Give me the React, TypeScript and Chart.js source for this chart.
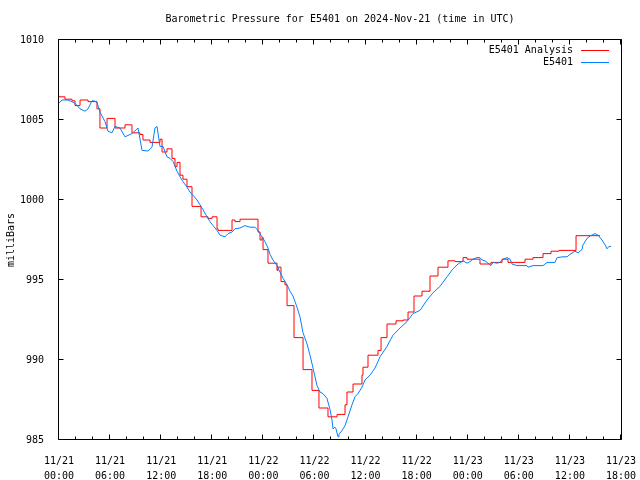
import { useEffect, useRef } from 'react';
import { Chart, registerables } from 'chart.js';

Chart.register(...registerables);

const FONT = '"DejaVu Sans Mono", monospace';

const chartTitle = 'Barometric Pressure for E5401 on 2024-Nov-21 (time in UTC)';
const yAxisTitle = 'milliBars';
const seriesNames = ['E5401 Analysis', 'E5401'];
const seriesColors = ['#ff0000', '#0080ff'];

// x tick labels every 6 hours from 2024-11-21 00:00 UTC
const xTickDays = ['11/21', '11/21', '11/21', '11/21', '11/22', '11/22', '11/22', '11/22', '11/23', '11/23', '11/23', '11/23'];
const xTickTimes = ['00:00', '06:00', '12:00', '18:00', '00:00', '06:00', '12:00', '18:00', '00:00', '06:00', '12:00', '18:00'];
const xMinHours = 0;
const xMaxHours = 66;
const yMin = 985;
const yMax = 1010;

// Observed station (E5401), hours since 11/21 00:00
const obsHours = [
  0.0, 0.35, 1.06, 1.88, 2.47, 3.05, 3.41, 3.88, 4.11, 4.46, 4.81, 5.4, 5.75, 6.22, 6.58, 7.16, 7.75, 8.57, 9.28, 9.75,
  10.45, 10.92, 11.27, 11.51, 11.86, 12.21, 12.68, 13.04, 13.39, 13.86, 14.21, 14.56, 15.03, 15.38, 15.74, 16.21, 16.56,
  16.91, 17.38, 17.73, 18.09, 18.56, 18.91, 19.5, 19.85, 20.32, 20.67, 21.26, 21.84, 22.43, 23.02, 23.37, 23.84, 24.19,
  24.54, 24.78, 25.13, 25.6, 25.95, 26.31, 26.78, 27.13, 27.48, 27.95, 28.3, 28.66, 29.13, 29.48, 29.83, 30.3, 30.65,
  31.0, 31.47, 31.83, 32.06, 32.18, 32.41, 32.53, 32.77, 32.88, 33.24, 33.59, 33.94, 34.41, 34.76, 35.11, 35.58, 35.94,
  36.52, 37.11, 37.46, 37.7, 38.52, 39.22, 40.05, 40.87, 41.57, 42.4, 43.22, 43.92, 44.74, 45.57, 46.27, 46.86, 47.45,
  47.92, 48.27, 48.62, 49.09, 49.44, 49.68, 50.03, 50.38, 50.73, 50.97, 51.44, 51.79, 52.14, 52.61, 52.97, 53.2, 53.79,
  54.37, 54.96, 55.08, 55.67, 56.84, 57.31, 58.25, 58.49, 59.19, 59.66, 60.01, 60.6, 60.95, 61.42, 61.54, 62.01, 62.36,
  62.95, 63.3, 63.77, 64.12, 64.36, 64.59, 64.83,
];
const obsPressure = [
  1006.05, 1006.25, 1006.25, 1006.05, 1005.7, 1005.55, 1005.7, 1006.2, 1006.2, 1006.1, 1005.5, 1004.9, 1004.3, 1004.2,
  1004.6, 1004.5, 1003.95, 1004.15, 1004.5, 1003.1, 1003.06, 1003.3, 1004.5, 1004.6, 1003.35, 1003.35, 1002.7, 1002.6,
  1002.4, 1001.8, 1001.45, 1001.15, 1000.8, 1000.5, 1000.3, 1000.0, 999.7, 999.4, 998.95, 998.65, 998.4, 998.1, 997.8,
  997.7, 997.9, 998.0, 998.2, 998.25, 998.4, 998.3, 998.3, 998.1, 997.7, 997.4, 997.0, 996.6, 996.25, 995.9, 995.5,
  995.1, 994.7, 994.3, 994.0, 993.3, 992.7, 991.7, 991.0, 990.3, 989.5, 988.4, 988.0, 987.9, 987.6, 986.9, 986.25,
  985.7, 985.8, 985.7, 985.2, 985.35, 985.6, 985.9, 986.45, 987.2, 987.7, 987.9, 988.3, 988.75, 989.05, 989.5, 989.9,
  990.2, 990.85, 991.55, 992.0, 992.4, 992.9, 993.1, 993.75, 994.2, 994.6, 995.2, 995.7, 996.0, 996.2, 996.05, 996.15,
  996.3, 996.4, 996.4, 996.25, 996.2, 996.05, 995.9, 996.1, 996.05, 996.1, 996.3, 996.4, 996.3, 996.0, 995.9, 995.9,
  995.9, 995.8, 995.9, 995.9, 996.1, 996.1, 996.4, 996.45, 996.45, 996.6, 996.8, 996.7, 996.9, 997.2, 997.6, 997.75,
  997.9, 997.8, 997.5, 997.2, 996.95, 997.1, 997.1,
];

// Analysis (step line): each value holds from its hour until the next hour
const anaHours = [
  0.0, 0.7, 1.53, 1.88, 2.47, 3.41, 4.46, 4.81, 5.64, 6.58, 7.75, 8.57, 9.51, 9.86, 10.69, 11.86, 12.1, 12.68, 13.27,
  13.62, 13.86, 14.21, 14.56, 15.03, 15.62, 16.68, 17.5, 17.97, 18.56, 18.67, 20.32, 20.67, 21.26, 23.37, 23.61, 23.84,
  23.96, 24.54, 25.6, 25.72, 26.07, 26.54, 26.78, 27.6, 28.66, 29.71, 30.53, 31.59, 32.65, 33.59, 33.82, 34.53, 35.58,
  35.7, 36.29, 37.46, 37.82, 38.52, 39.58, 40.4, 40.99, 41.69, 42.63, 43.57, 44.51, 45.68, 46.51, 47.45, 47.92, 49.44,
  50.73, 52.03, 52.73, 54.73, 55.67, 56.84, 57.78, 58.72, 60.72, 61.77, 63.53,
];
const anaPressure = [
  1006.52, 1006.45, 1006.3, 1006.2, 1005.9, 1006.25, 1006.15, 1005.7, 1004.5, 1005.1, 1004.5, 1004.7, 1004.2, 1004.1,
  1003.75, 1003.6, 1003.8, 1003.0, 1003.2, 1002.6, 1002.1, 1002.35, 1001.55, 1001.3, 1000.83, 999.6, 998.95, 998.85,
  998.95, 998.2, 998.1, 998.75, 998.65, 998.8, 998.0, 997.5, 997.67, 996.9, 996.05, 995.6, 995.8, 994.9, 994.7, 993.4,
  991.4, 989.4, 988.1, 987.0, 986.45, 986.6, 987.2, 988.0, 988.5, 989.05, 989.55, 990.3, 990.6, 991.4, 992.25, 992.45,
  992.5, 993.0, 994.0, 994.3, 995.25, 995.8, 996.2, 996.15, 996.4, 996.3, 996.0, 996.1, 996.3, 996.1, 996.3, 996.4,
  996.65, 996.8, 996.85, 997.77, 997.77,
];

export default function App() {
  const ref = useRef<HTMLCanvasElement>(null);

  useEffect(() => {
    document.body.style.margin = '0';
    const canvas = ref.current;
    if (!canvas) return;

    const framePlugin = {
      id: 'gnuFrame',
      afterDraw(chart: any) {
        const { ctx, chartArea: a, scales } = chart;
        const xs = scales.x;
        const ys = scales.y;
        ctx.save();
        ctx.strokeStyle = '#000';
        ctx.lineWidth = 1;
        const L = a.left - 0.5;
        const R = a.right + 0.5;
        const T = a.top - 0.5;
        const B = a.bottom - 0.5;
        ctx.beginPath();
        ctx.rect(L, T, R - L, B - T);
        // x ticks (major every 6 h, minor every 2 h), bottom and top
        for (let h = xMinHours; h <= xMaxHours; h += 2) {
          const px = Math.round(xs.getPixelForValue(h)) - 0.5;
          const len = h % 6 === 0 ? 5 : 3;
          ctx.moveTo(px, B);
          ctx.lineTo(px, B - len);
          ctx.moveTo(px, T);
          ctx.lineTo(px, T + len);
        }
        // y ticks, left and right
        for (let v = yMin; v <= yMax; v += 5) {
          const py = Math.round(ys.getPixelForValue(v)) - 0.5;
          ctx.moveTo(L, py);
          ctx.lineTo(L + 5, py);
          ctx.moveTo(R, py);
          ctx.lineTo(R - 5, py);
        }
        ctx.stroke();

        // title
        ctx.fillStyle = '#000';
        ctx.font = `10px ${FONT}`;
        ctx.textAlign = 'center';
        ctx.textBaseline = 'middle';
        ctx.fillText(chartTitle, (a.left + a.right) / 2, 19);

        // legend
        ctx.textAlign = 'right';
        seriesNames.forEach((name, i) => {
          const y = a.top + 10 + i * 12;
          ctx.fillStyle = '#000';
          ctx.fillText(name, a.right - 48, y);
          ctx.strokeStyle = seriesColors[i];
          ctx.beginPath();
          ctx.moveTo(a.right - 40, Math.round(y) + 0.5);
          ctx.lineTo(a.right - 12, Math.round(y) + 0.5);
          ctx.stroke();
        });
        ctx.restore();
      },
    };

    const chart = new Chart(canvas, {
      type: 'line',
      data: {
        datasets: [
          {
            label: seriesNames[0],
            data: anaHours.map((h, i) => ({ x: h, y: anaPressure[i] })),
            borderColor: seriesColors[0],
            borderWidth: 1,
            pointRadius: 0,
            stepped: 'after',
            order: 1,
          },
          {
            label: seriesNames[1],
            data: obsHours.map((h, i) => ({ x: h, y: obsPressure[i] })),
            borderColor: seriesColors[1],
            borderWidth: 1,
            pointRadius: 0,
            tension: 0,
            order: 0,
          },
        ],
      },
      options: {
        responsive: false,
        animation: false,
        devicePixelRatio: 1,
        layout: { padding: { top: 40, right: 19, left: 0, bottom: 0 } },
        plugins: {
          legend: { display: false },
          title: { display: false },
          tooltip: { enabled: false },
        },
        scales: {
          x: {
            type: 'linear',
            min: xMinHours,
            max: xMaxHours,
            grid: { display: false },
            border: { display: false },
            afterFit: (s: any) => {
              s.height = 40;
              s.paddingLeft = 0;
              s.paddingRight = 0;
            },
            ticks: {
              stepSize: 6,
              maxTicksLimit: 30,
              autoSkip: false,
              maxRotation: 0,
              minRotation: 0,
              padding: 6,
              color: '#000',
              font: { family: FONT, size: 10, lineHeight: 1.5 },
              callback: (v: any) => {
                const i = Math.round(Number(v) / 6);
                return [xTickDays[i], xTickTimes[i]];
              },
            },
          },
          y: {
            type: 'linear',
            min: yMin,
            max: yMax,
            grid: { display: false },
            border: { display: false },
            afterFit: (s: any) => {
              s.width = 59;
              s.paddingTop = 0;
              s.paddingBottom = 0;
            },
            title: {
              display: true,
              text: yAxisTitle,
              color: '#000',
              padding: 5,
              font: { family: FONT, size: 10, lineHeight: 1.2 },
            },
            ticks: {
              stepSize: 5,
              padding: 7,
              color: '#000',
              font: { family: FONT, size: 10 },
              callback: (v: any) => String(v),
            },
          },
        },
      },
      plugins: [framePlugin],
    });

    return () => chart.destroy();
  }, []);

  return (
    <div style={{ position: 'fixed', left: 0, top: 0, width: 640, height: 480, background: '#fff' }}>
      <canvas ref={ref} width={640} height={480} style={{ display: 'block' }} />
    </div>
  );
}
